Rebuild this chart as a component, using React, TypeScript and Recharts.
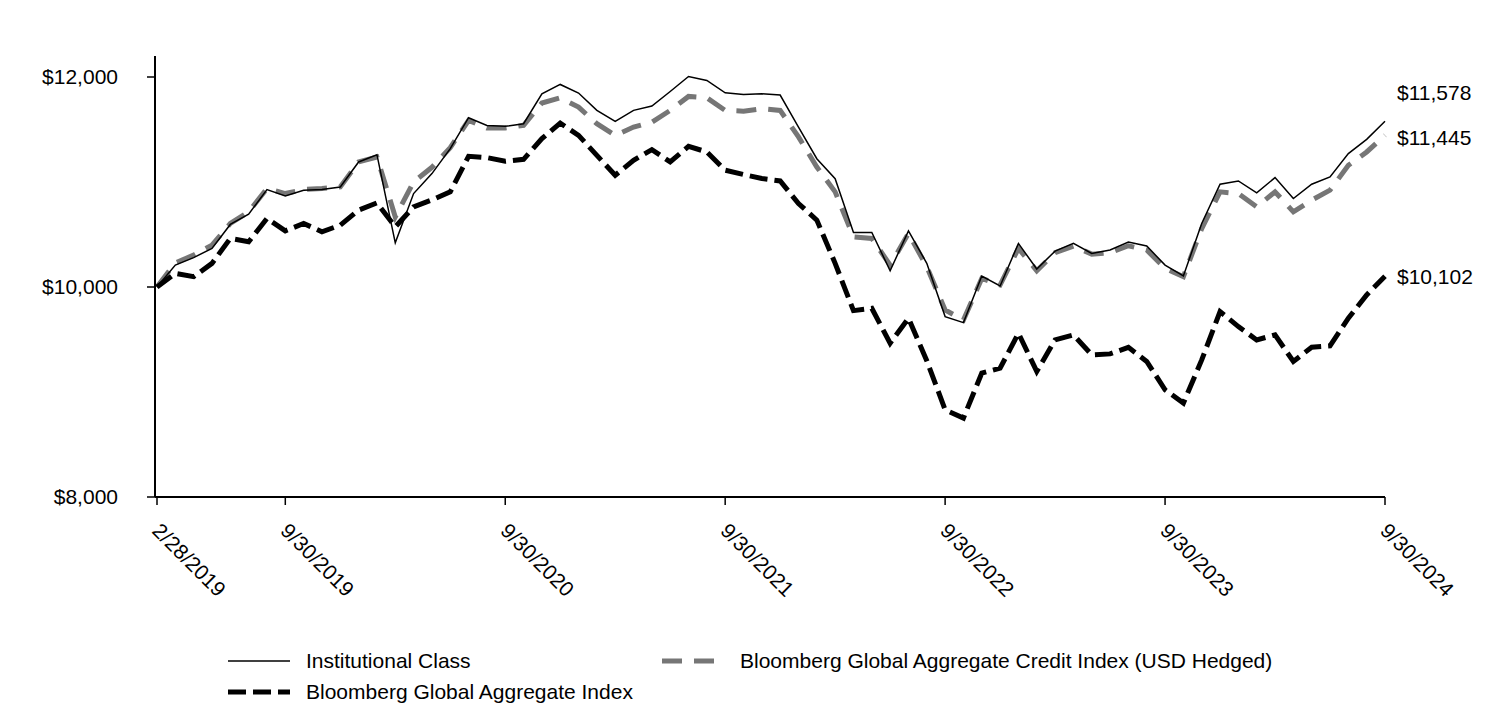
import { LineChart, Line, XAxis, YAxis, LabelList } from "recharts"

const dates = [
  "2/28/2019", "3/31/2019", "4/30/2019", "5/31/2019", "6/30/2019", "7/31/2019", "8/31/2019", "9/30/2019", "10/31/2019", "11/30/2019", "12/31/2019",
  "1/31/2020", "2/29/2020", "3/31/2020", "4/30/2020", "5/31/2020", "6/30/2020", "7/31/2020", "8/31/2020", "9/30/2020", "10/31/2020", "11/30/2020", "12/31/2020",
  "1/31/2021", "2/28/2021", "3/31/2021", "4/30/2021", "5/31/2021", "6/30/2021", "7/31/2021", "8/31/2021", "9/30/2021", "10/31/2021", "11/30/2021", "12/31/2021",
  "1/31/2022", "2/28/2022", "3/31/2022", "4/30/2022", "5/31/2022", "6/30/2022", "7/31/2022", "8/31/2022", "9/30/2022", "10/31/2022", "11/30/2022", "12/31/2022",
  "1/31/2023", "2/28/2023", "3/31/2023", "4/30/2023", "5/31/2023", "6/30/2023", "7/31/2023", "8/31/2023", "9/30/2023", "10/31/2023", "11/30/2023", "12/31/2023",
  "1/31/2024", "2/29/2024", "3/31/2024", "4/30/2024", "5/31/2024", "6/30/2024", "7/31/2024", "8/31/2024", "9/30/2024",
]

const institutional = [
  10000, 10209, 10280, 10368, 10596, 10694, 10928, 10868, 10922, 10928,
  10953, 11191, 11260, 10421, 10890, 11080, 11318, 11612, 11539, 11530,
  11555, 11840, 11929, 11847, 11682, 11577, 11682, 11723, 11862, 12005,
  11967, 11850, 11834, 11840, 11828, 11523, 11222, 11032, 10520, 10520,
  10155, 10535, 10225, 9718, 9661, 10105, 10010, 10415, 10171, 10342,
  10415, 10320, 10352, 10428, 10390, 10209, 10105, 10605, 10979, 11010,
  10896, 11042, 10843, 10979, 11048, 11270, 11406, 11578,
]

const creditIndex = [
  10000, 10230, 10304, 10399, 10605, 10716, 10938, 10890, 10928, 10938,
  10953, 11191, 11238, 10668, 11000, 11140, 11327, 11587, 11514, 11514,
  11539, 11752, 11802, 11713, 11555, 11444, 11523, 11570, 11682, 11815,
  11802, 11682, 11675, 11698, 11682, 11429, 11143, 10906, 10478, 10463,
  10209, 10510, 10193, 9781, 9686, 10082, 10019, 10368, 10155, 10326,
  10390, 10313, 10326, 10393, 10352, 10177, 10098, 10557, 10906, 10890,
  10763, 10906, 10716, 10827, 10922, 11159, 11286, 11445,
]

const aggregateIndex = [
  10000, 10130, 10098, 10225, 10463, 10431, 10653, 10535, 10605, 10526,
  10589, 10732, 10801, 10573, 10763, 10830, 10906, 11245, 11232, 11197,
  11216, 11413, 11561, 11444, 11254, 11064, 11207, 11308, 11191, 11340,
  11286, 11112, 11071, 11033, 11010, 10795, 10637, 10225, 9775, 9797,
  9465, 9703, 9298, 8831, 8752, 9180, 9227, 9560, 9196, 9496,
  9544, 9354, 9363, 9425, 9291, 9021, 8895, 9306, 9766, 9623,
  9496, 9544, 9291, 9427, 9439, 9703, 9924, 10102,
]

const xTicks = ["2/28/2019", "9/30/2019", "9/30/2020", "9/30/2021", "9/30/2022", "9/30/2023", "9/30/2024"]
const yTicks = [8000, 10000, 12000]

const FONT = "'Liberation Sans', Arial, sans-serif"

const chartData = dates.map((date, i) => ({
  date,
  inst: institutional[i],
  credit: creditIndex[i],
  agg: aggregateIndex[i],
}))

// drawn back to front: grey first so the solid line sits on top
const series = [
  { key: "credit", name: "Bloomberg Global Aggregate Credit Index (USD Hedged)", color: "#767676", width: 5, dash: "20 12", labelDy: 2 },
  { key: "agg", name: "Bloomberg Global Aggregate Index", color: "#000000", width: 5, dash: "18 7", labelDy: 0 },
  { key: "inst", name: "Institutional Class", color: "#000000", width: 1.5, dash: undefined, labelDy: -29 },
]

const legendItems = [
  { key: "inst", left: 228, top: 661 },
  { key: "credit", left: 662, top: 661 },
  { key: "agg", left: 228, top: 692 },
]

const money = (v: number) => "$" + v.toLocaleString("en-US")

const DateTick = (props: any) => {
  const { x, y, payload } = props
  const ax = x - 6
  const ay = y + 25
  return (
    <text x={ax} y={ay} transform={`rotate(45 ${ax} ${ay})`} textAnchor="start" fontSize={21} fontFamily={FONT} fill="#000">
      {payload.value}
    </text>
  )
}

const endLabel = (dy: number) => (props: any) => {
  const { x, y, index, value } = props
  if (index !== dates.length - 1) return null
  return (
    <text x={x + 12} y={y + dy} dy="0.35em" fontSize={21} fontFamily={FONT} fill="#000">
      {money(value)}
    </text>
  )
}

const App = () => {
  return (
    <div style={{ position: "absolute", left: 0, top: 0, width: 1512, height: 708, background: "#fff" }}>
      <LineChart width={1512} height={708} data={chartData} margin={{ top: 56, right: 127, bottom: 111, left: 0 }}>
        <XAxis
          dataKey="date"
          ticks={xTicks}
          interval={0}
          height={100}
          padding={{ left: 2, right: 0 }}
          tick={<DateTick />}
          tickSize={8}
          stroke="#000"
          strokeWidth={2}
          tickLine={{ stroke: "#000", strokeWidth: 1.5 }}
        />
        <YAxis
          domain={[8000, 12200]}
          ticks={yTicks}
          width={155}
          tickSize={8}
          tickMargin={29}
          tickFormatter={money}
          tick={{ fontSize: 21, fontFamily: FONT, fill: "#000" }}
          stroke="#000"
          strokeWidth={2}
          tickLine={{ stroke: "#000", strokeWidth: 1.5 }}
          allowDataOverflow
        />
        {series.map((s) => (
          <Line
            key={s.key}
            type="linear"
            dataKey={s.key}
            name={s.name}
            stroke={s.color}
            strokeWidth={s.width}
            strokeDasharray={s.dash}
            dot={false}
            activeDot={false}
            isAnimationActive={false}
          >
            <LabelList dataKey={s.key} content={endLabel(s.labelDy)} />
          </Line>
        ))}
      </LineChart>

      {legendItems.map((item) => {
        const s = series.find((d) => d.key === item.key)!
        const iconW = item.key === "credit" ? 60 : 62
        const gap = item.key === "credit" ? 18 : 16
        return (
          <div
            key={item.key}
            style={{
              position: "absolute",
              left: item.left,
              top: item.top - 14,
              height: 28,
              display: "flex",
              alignItems: "center",
              fontFamily: FONT,
              fontSize: 21,
              color: "#000",
              whiteSpace: "nowrap",
            }}
          >
            <svg width={iconW} height={10} style={{ marginRight: gap }}>
              <line x1={0} y1={5} x2={iconW} y2={5} stroke={s.color} strokeWidth={s.width} strokeDasharray={s.dash} />
            </svg>
            <span>{s.name}</span>
          </div>
        )
      })}
    </div>
  )
}

export default App
